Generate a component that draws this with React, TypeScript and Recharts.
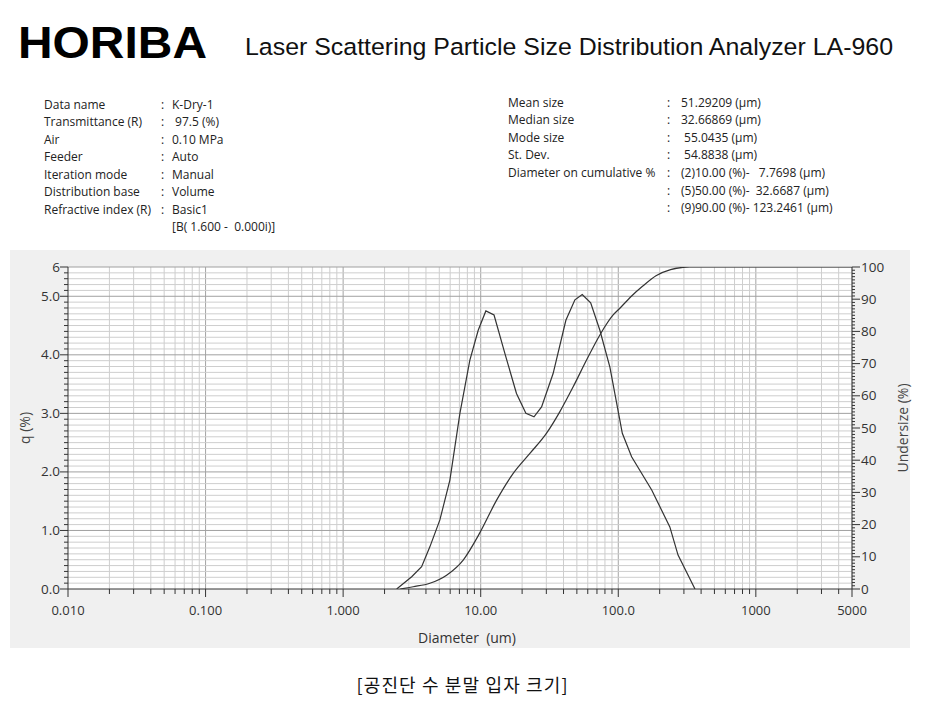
import React from "react";
import { LineChart, Line, XAxis, YAxis, CartesianGrid, ReferenceLine } from "recharts";

// frequency curve q (%)
const qDiameter = [2.45, 3.15, 3.72, 4.27, 5.05, 5.97, 7.06, 8.34, 9.59, 10.9, 12.5, 15.0, 18.2, 21.3, 24.4, 27.7, 33.6, 41.6, 48.4, 54.7, 63.0, 73.5, 86.9, 107, 125, 175, 237, 272, 361];
const qPercent = [0, 0.21, 0.38, 0.72, 1.18, 1.86, 3.0, 3.91, 4.42, 4.75, 4.68, 4.02, 3.34, 3.0, 2.94, 3.11, 3.68, 4.59, 4.94, 5.03, 4.89, 4.42, 3.79, 2.66, 2.26, 1.69, 1.06, 0.58, 0];

// cumulative undersize (%)
const undersizeDiameter = [2.6, 3.23, 4.27, 5.65, 7.46, 9.87, 13.05, 17.23, 22.78, 30.12, 37.64, 47.0, 58.8, 73.5, 91.8, 102.7, 125, 150, 188, 240, 296, 331, 5000];
const undersizePercent = [0, 0.7, 1.8, 4.3, 9.0, 17.5, 27.6, 35.9, 42.1, 48.4, 55.1, 62.8, 71.1, 78.9, 85.1, 87.2, 91.0, 94.0, 97.3, 99.2, 99.9, 100, 100];

const xTickValues = [0.01, 0.1, 1, 10, 100, 1000, 5000];
const xTickLabels = ["0.010", "0.100", "1.000", "10.00", "100.0", "1000", "5000"];
const qTickValues = [0, 1, 2, 3, 4, 5, 5.5];
const qTickLabels = ["0.0", "1.0", "2.0", "3.0", "4.0", "5.0", "6"];
const undersizeTickValues = [0, 10, 20, 30, 40, 50, 60, 70, 80, 90, 100];

const infoLeftLabels = ["Data name", "Transmittance (R)", "Air", "Feeder", "Iteration mode", "Distribution base", "Refractive index (R)", ""];
const infoLeftValues = ["K-Dry-1", " 97.5 (%)", "0.10 MPa", "Auto", "Manual", "Volume", "Basic1", "[B( 1.600 -  0.000i)]"];
const infoRightLabels = ["Mean size", "Median size", "Mode size", "St. Dev.", "Diameter on cumulative %", "", ""];
const infoRightValues = ["51.29209 (µm)", "32.66869 (µm)", " 55.0435 (µm)", " 54.8838 (µm)", "(2)10.00 (%)-   7.7698 (µm)", "(5)50.00 (%)-  32.6687 (µm)", "(9)90.00 (%)- 123.2461 (µm)"];

const qData = qDiameter.map((d, i) => ({ d, q: qPercent[i] }));
const undersizeData = undersizeDiameter.map((d, i) => ({ d, u: undersizePercent[i] }));

// log grid: 1..9 in every decade
const decades = [0.01, 0.1, 1, 10, 100, 1000];
const xAll: number[] = [];
decades.forEach((dec) => {
  for (let m = 1; m <= 9; m++) {
    const v = m * dec;
    if (v <= 5000) xAll.push(v);
  }
});
const qAll: number[] = [];
for (let i = 0; i <= 55; i++) qAll.push(i / 10);
const uAll: number[] = [];
for (let i = 0; i <= 100; i++) uAll.push(i);

const isMajorQ = (v: number) => qTickValues.some((t) => Math.abs(t - v) < 1e-9);
// keep runs of spaces in svg text
const keepSpaces = (s: string) => s.replace(/ /g, "\u00a0");

const AXIS = "#333";
const TICK_FONT = "'Open Sans', sans-serif";

const XTick = (props: any) => {
  const { x, y, payload } = props;
  const idx = xTickValues.indexOf(payload.value);
  const major = idx >= 0;
  return (
    <g>
      <line x1={x} x2={x} y1={y} y2={y + (major ? 8 : 5)} stroke={AXIS} />
      {major && (
        <text x={x} y={y + 26} textAnchor="middle" fontSize={13} fill="#333" fontFamily={TICK_FONT}>
          {xTickLabels[idx]}
        </text>
      )}
    </g>
  );
};

const QTick = (props: any) => {
  const { x, y, payload } = props;
  const idx = qTickValues.findIndex((t) => Math.abs(t - payload.value) < 1e-9);
  const major = idx >= 0;
  return (
    <g>
      <line x1={x} x2={x - (major ? 8 : 4)} y1={y} y2={y} stroke={AXIS} />
      {major && (
        <text x={x - 8} y={y + 4.5} textAnchor="end" fontSize={13.5} fill="#333" fontFamily={TICK_FONT}>
          {qTickLabels[idx]}
        </text>
      )}
    </g>
  );
};

const UTick = (props: any) => {
  const { x, y, payload } = props;
  const major = undersizeTickValues.includes(payload.value);
  return (
    <g>
      <line x1={x} x2={x + (major ? 8 : 3)} y1={y} y2={y} stroke={AXIS} />
      {major && (
        <text x={x + 9} y={y + 4.5} textAnchor="start" fontSize={13.5} fill="#333" fontFamily={TICK_FONT}>
          {payload.value}
        </text>
      )}
    </g>
  );
};

const INFO_FONT = "'Open Sans', sans-serif";

export default function App() {
  return (
    <div style={{ position: "absolute", left: 0, top: 0, width: 936, height: 711, background: "#fff", overflow: "hidden" }}>
      <div style={{ position: "absolute", left: 10, top: 250, width: 900, height: 398, background: "#f0f0f0" }} />
      <div style={{ position: "absolute", left: 0, top: 250 }}>
        <LineChart width={936} height={400} margin={{ top: 17, right: 24, left: 8, bottom: 0 }}>
          <CartesianGrid yAxisId="q" horizontal={false} vertical={false} fill="#fff" />
          {xAll
            .filter((v) => v > 0.01)
            .map((v) => (
              <ReferenceLine
                key={"x" + v}
                x={v}
                yAxisId="q"
                stroke={decades.includes(v) ? "#a4a4a4" : "#cecece"}
                strokeWidth={1}
              />
            ))}
          {qAll
            .filter((v) => v > 0)
            .map((v) => (
              <ReferenceLine
                key={"y" + v}
                y={v}
                yAxisId="q"
                stroke={isMajorQ(v) ? "#a0a0a0" : "#cecece"}
                strokeWidth={1}
              />
            ))}
          <XAxis
            dataKey="d"
            type="number"
            scale="log"
            domain={[0.01, 5000]}
            allowDataOverflow
            ticks={xAll}
            interval={0}
            tick={XTick}
            tickLine={false}
            tickSize={0}
            tickMargin={0}
            height={61}
            axisLine={{ stroke: AXIS }}
          />
          <YAxis
            yAxisId="q"
            type="number"
            domain={[0, 5.5]}
            allowDataOverflow
            ticks={qAll}
            interval={0}
            tick={QTick}
            tickLine={false}
            tickSize={0}
            tickMargin={0}
            width={60}
            axisLine={{ stroke: AXIS }}
          />
          <YAxis
            yAxisId="u"
            orientation="right"
            type="number"
            domain={[0, 100]}
            allowDataOverflow
            ticks={uAll}
            interval={0}
            tick={UTick}
            tickLine={false}
            tickSize={0}
            tickMargin={0}
            width={60}
            axisLine={{ stroke: AXIS }}
          />
          <Line
            yAxisId="q"
            data={qData}
            dataKey="q"
            type="linear"
            stroke="#333"
            strokeWidth={1.2}
            dot={false}
            isAnimationActive={false}
          />
          <Line
            yAxisId="u"
            data={undersizeData}
            dataKey="u"
            type="monotone"
            stroke="#333"
            strokeWidth={1.2}
            dot={false}
            isAnimationActive={false}
          />
        </LineChart>
      </div>
      <svg
        width={936}
        height={711}
        style={{ position: "absolute", left: 0, top: 0, pointerEvents: "none" }}
      >
        <text x={18} y={58} fontSize={45} fontWeight={700} fontFamily="'Liberation Sans', Arial, sans-serif" fill="#000" textLength={189} lengthAdjust="spacingAndGlyphs">
          HORIBA
        </text>
        <text x={245} y={55} fontSize={24.5} fontFamily="'Liberation Sans', Arial, sans-serif" fill="#111" textLength={648} lengthAdjust="spacingAndGlyphs">
          Laser Scattering Particle Size Distribution Analyzer LA-960
        </text>
        <g fontSize={12} fontFamily={INFO_FONT} fill="#222">
          {infoLeftLabels.map((lab, i) => {
            const y = 108.5 + i * 17.5;
            return (
              <g key={"l" + i}>
                {lab && <text x={44} y={y}>{lab}</text>}
                {i < 7 && <text x={161} y={y}>:</text>}
                <text x={172} y={y}>{keepSpaces(infoLeftValues[i])}</text>
              </g>
            );
          })}
          {infoRightLabels.map((lab, i) => {
            const y = 106.5 + i * 17.6;
            return (
              <g key={"r" + i}>
                {lab && <text x={508} y={y}>{lab}</text>}
                <text x={667} y={y}>:</text>
                <text x={681} y={y}>{keepSpaces(infoRightValues[i])}</text>
              </g>
            );
          })}
        </g>
        <text
          x={0}
          y={0}
          transform="translate(30 428) rotate(-90)"
          textAnchor="middle"
          fontSize={14}
          fill="#444"
          fontFamily={TICK_FONT}
        >
          q (%)
        </text>
        <text
          x={0}
          y={0}
          transform="translate(908 428) rotate(-90)"
          textAnchor="middle"
          fontSize={14}
          fill="#444"
          fontFamily={TICK_FONT}
        >
          Undersize (%)
        </text>
        <text x={467} y={643} textAnchor="middle" fontSize={14} fill="#333" fontFamily={TICK_FONT}>
          {keepSpaces("Diameter  (um)")}
        </text>
        <text x={462} y={692} textAnchor="middle" fontSize={18} fill="#111" fontFamily="'Noto Sans CJK KR', sans-serif" textLength={211} lengthAdjust="spacing">
          [공진단 수 분말 입자 크기]
        </text>
      </svg>
    </div>
  );
}
